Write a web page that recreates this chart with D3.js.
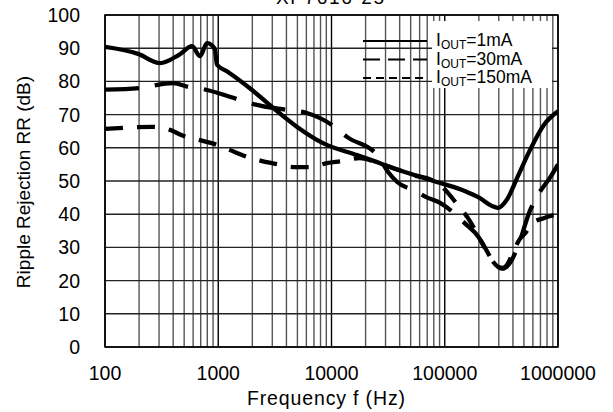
<!DOCTYPE html>
<html lang="en">
<head>
<meta charset="UTF-8">
<script src="https://cdn.jsdelivr.net/npm/d3@7"></script>
<title>Ripple Rejection</title>
<style>
    body { margin: 0; background: #fff; }
    text { font-family: "Liberation Sans", Arial, sans-serif; fill: #000; }
</style>
</head>
<body>
<svg id="chart" width="613" height="412"></svg>
<script>
    // data
    var title = "XP7616-25";
    var xTicks = [100, 1000, 10000, 100000, 1000000];
    var yTicks = [0, 10, 20, 30, 40, 50, 60, 70, 80, 90, 100];

    var f1mA  = [100, 196, 306, 450, 588, 690, 795, 870, 935, 975, 1200, 1990, 2980, 4970, 8420, 16800, 26500, 32900, 91000, 150000, 203000, 260000, 295000, 352000, 450000, 565000, 750000, 1000000];
    var rr1mA = [90.4, 88.3, 85.5, 88, 90.6, 87.6, 91.5, 91, 89.5, 85, 83, 77.4, 72.3, 66.3, 61.4, 57.8, 55.4, 54.2, 49.4, 47, 44.9, 42.5, 41.9, 44.3, 52, 59.3, 66.9, 71];

    var f30mA  = [100, 200, 400, 550, 730, 1460, 2030, 4040, 6050, 10700, 13700, 25300, 32000, 38000, 55000, 68000, 91000, 120000, 150000, 200000, 250000, 320000, 380000, 450000, 560000, 700000, 850000, 1000000];
    var rr30mA = [77.5, 78, 79.5, 78.3, 77.7, 74.7, 73.2, 71.4, 70.5, 66.3, 63.3, 57.8, 52.5, 49.7, 47, 45.2, 43.4, 40.4, 37.3, 33, 27, 23.6, 25.5, 31, 40.7, 47, 51, 55];

    var f150mA  = [100, 260, 375, 490, 690, 935, 1270, 1720, 2440, 3300, 4560, 6440, 9100, 12400, 17800, 23300, 33000, 50000, 80000, 95000, 130000, 160000, 215000, 280000, 320000, 350000, 400000, 450000, 520000, 600000, 750000, 950000, 1000000];
    var rr150mA = [65.7, 66.3, 65.4, 63.6, 62.3, 61.1, 59.3, 57.5, 56, 55.1, 54.2, 54.2, 55.4, 56, 56.9, 56, 54.2, 52, 50, 48.2, 42.8, 38.9, 31.3, 25, 23.8, 24.5, 28.3, 32, 34.5, 37.5, 38.8, 39.8, 39.8];

    var seriesNames = ["1mA", "30mA", "150mA"];
    var seriesDash  = [null, "34,16", "18,14"];
    var legendDash  = [null, "17,8", "8,5"];

    var svg = d3.select("svg#chart"),
        pl = 105, pr = 558, pt = 15, pb = 347;

    var x = d3.scaleLog().domain([100, 1000000]).range([pl, pr]),
        y = d3.scaleLinear().domain([0, 100]).range([pb, pt]);

    // grid: minor decades
    var minor = [];
    for (var d = 100; d < 1000000; d *= 10) {
        for (var k = 2; k <= 9; k++) minor.push(d * k);
    }
    svg.append("g").selectAll("line").data(minor).enter().append("line")
        .attr("x1", function(v) { return x(v); }).attr("x2", function(v) { return x(v); })
        .attr("y1", pt).attr("y2", pb)
        .attr("stroke", "#555").attr("stroke-width", 1.4);
    svg.append("g").selectAll("line").data(xTicks).enter().append("line")
        .attr("x1", function(v) { return x(v); }).attr("x2", function(v) { return x(v); })
        .attr("y1", pt).attr("y2", pb)
        .attr("stroke", "#000").attr("stroke-width", 1.4);
    svg.append("g").selectAll("line").data(yTicks).enter().append("line")
        .attr("x1", pl).attr("x2", pr)
        .attr("y1", function(v) { return y(v); }).attr("y2", function(v) { return y(v); })
        .attr("stroke", "#222").attr("stroke-width", 1.4);

    svg.append("rect").attr("x", pl).attr("y", pt)
        .attr("width", pr - pl).attr("height", pb - pt)
        .attr("fill", "none").attr("stroke", "#000").attr("stroke-width", 1.5);

    // tick labels
    svg.append("g").selectAll("text").data(xTicks).enter().append("text")
        .attr("x", function(v) { return x(v); }).attr("y", 380)
        .attr("text-anchor", "middle").attr("font-size", 19.5)
        .text(function(v) { return v; });
    svg.append("g").selectAll("text").data(yTicks).enter().append("text")
        .attr("x", 80).attr("y", function(v) { return y(v) + 7; })
        .attr("text-anchor", "end").attr("font-size", 19.5)
        .text(function(v) { return v; });

    svg.append("text").attr("x", 326).attr("y", 405).attr("text-anchor", "middle")
        .attr("font-size", 19.5).attr("textLength", 158).text("Frequency f (Hz)");
    svg.append("text").attr("transform", "translate(30,182) rotate(-90)")
        .attr("text-anchor", "middle").attr("font-size", 19).text("Ripple Rejection RR (dB)");
    svg.append("text").attr("x", 330).attr("y", 4).attr("text-anchor", "middle")
        .attr("font-size", 19).attr("textLength", 108).text(title);

    // curves
    svg.append("clipPath").attr("id", "plot").append("rect")
        .attr("x", pl).attr("y", pt).attr("width", pr - pl).attr("height", pb - pt);

    var line = d3.line()
        .x(function(d) { return x(d[0]); })
        .y(function(d) { return y(d[1]); })
        .curve(d3.curveMonotoneX);

    var series = [d3.zip(f1mA, rr1mA), d3.zip(f30mA, rr30mA), d3.zip(f150mA, rr150mA)];
    series.forEach(function(s, i) {
        svg.append("path").attr("d", line(s)).attr("clip-path", "url(#plot)")
            .attr("fill", "none").attr("stroke", "#000").attr("stroke-width", 4.3)
            .attr("stroke-linejoin", "round")
            .attr("stroke-dasharray", seriesDash[i]);
    });

    // legend
    svg.append("rect").attr("x", 432).attr("y", 21).attr("width", 120).attr("height", 67).attr("fill", "#fff");
    var lg = svg.append("g").selectAll("g").data(seriesNames).enter().append("g");
    lg.append("line").attr("x1", 363).attr("x2", 427)
        .attr("y1", function(d, i) { return 41 + i * 18.5; })
        .attr("y2", function(d, i) { return 41 + i * 18.5; })
        .attr("stroke", "#000").attr("stroke-width", 2)
        .attr("stroke-dasharray", function(d, i) { return legendDash[i]; });
    var lt = lg.append("text").attr("x", 436)
        .attr("y", function(d, i) { return 46 + i * 18.5; })
        .attr("font-size", 17.5);
    lt.append("tspan").text("I");
    lt.append("tspan").attr("font-size", 12).attr("dy", 3).text("OUT");
    lt.append("tspan").attr("dy", -3).text(function(d) { return "=" + d; });
</script>
</body>
</html>
